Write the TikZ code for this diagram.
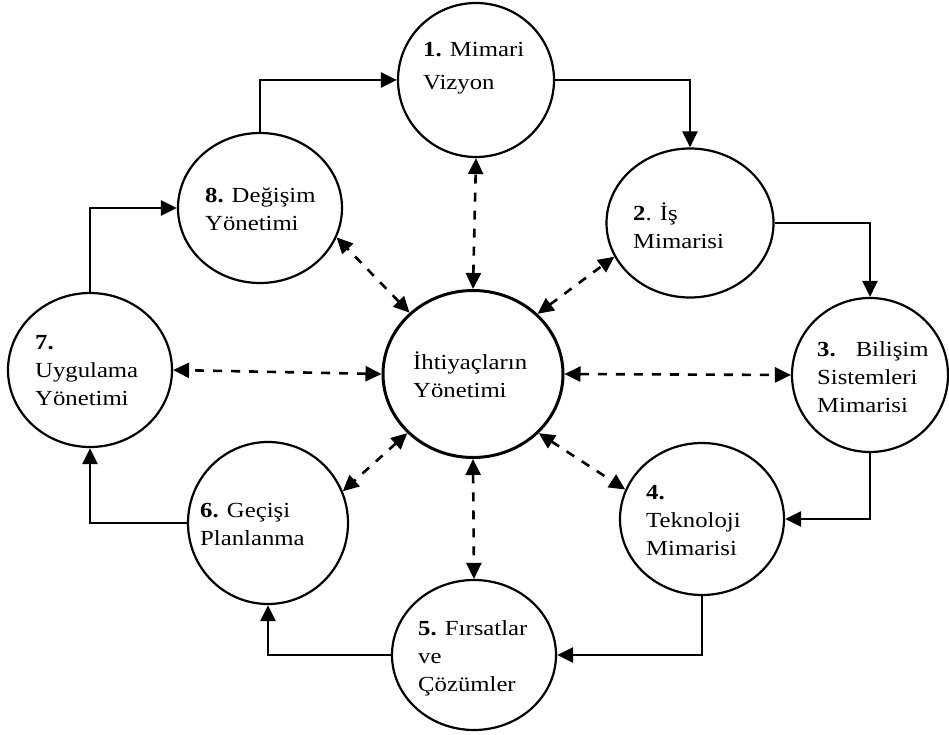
\documentclass[tikz,border=0pt]{standalone}
\usepackage{fontspec}
\setmainfont{Liberation Serif}[FakeStretch=1.15]
\usetikzlibrary{shapes.geometric,arrows.meta}

\tikzset{
  stage/.style args={#1/#2}{draw, ellipse, line width=2.2pt, inner sep=0pt,
    minimum width=#1pt, minimum height=#2pt},
  hub/.style args={#1/#2}{stage=#1/#2, line width=3pt},
  % labels are placed by the baseline of their last line
  lbl/.style={anchor=base west, inner sep=0pt, align=left,
    font=\fontsize{21.5}{28}\selectfont},
  tip/.tip={Triangle[length=16pt,width=15pt]},
  flow/.style={line width=2.7pt, -tip},
  link/.style={line width=2.6pt, tip-tip, dash pattern=on 9pt off 9pt},
}

\begin{document}
\begin{tikzpicture}[x=1pt,y=-1pt]
\useasboundingbox (0,0) rectangle (949,735);

% the eight stages round the cycle and the hub in the middle
\node[stage=156/154] (n1) at (476,80)  {};
\node[stage=167/149] (n2) at (690,223) {};
\node[stage=156/154] (n3) at (870,375) {};
\node[stage=164/152] (n4) at (702,519) {};
\node[stage=164/150] (n5) at (474,655) {};
\node[stage=160/162] (n6) at (268,523) {};
\node[stage=164/154] (n7) at (90,370)  {};
\node[stage=164/150] (n8) at (260,208) {};
\node[hub=180/167]   (c)  at (473,374) {};

% labels
\node[lbl, font=\fontsize{21.5}{33}\selectfont] (t1) at (423,90) {\textbf{1.} Mimari\\Vizyon};
\node[lbl] (t2) at (633,248) {\textbf{2}. İş\\Mimarisi};
\node[lbl] (t3) at (817,412) {\textbf{3.}\hspace{20pt}Bilişim\\Sistemleri\\Mimarisi};
\node[lbl] (t4) at (646,555) {\textbf{4.}\\Teknoloji\\Mimarisi};
\node[lbl] (t5) at (418,691) {\textbf{5.} Fırsatlar\\ve\\Çözümler};
\node[lbl] (t6) at (200,545) {\textbf{6.} Geçişi\\Planlanma};
\node[lbl] (t7) at (35,405)  {\textbf{7.}\\Uygulama\\Yönetimi};
\node[lbl] (t8) at (205,230) {\textbf{8.}\hspace{8pt}Değişim\\Yönetimi};
\node[lbl] (tc) at (413,397) {İhtiyaçların\\Yönetimi};

% the cycle
\draw[flow] (n8.north) |- (n1.west);
\draw[flow] (n1.east) -| (n2.north);
\draw[flow] (n2.east) -| (n3.north);
\draw[flow] (n3.south) |- (n4.east);
\draw[flow] (n4.south) |- (n5.east);
\draw[flow] (n5.west) -| (n6.south);
\draw[flow] (n6.west) -| (n7.south);
\draw[flow] (n7.north) |- (n8.west);

% two-way links between the hub and each stage
\draw[link] (c.90)   -- (n1.270);
\draw[link] (c.43)   -- (n2.-156);
\draw[link] (c.0)    -- (n3.180);
\draw[link] (c.-42)  -- (n4.159);
\draw[link] (c.270)  -- (n5.90);
\draw[link] (c.-138) -- (n6.23);
\draw[link] (c.180)  -- (n7.0);
\draw[link] (c.136)  -- (n8.-21);
\end{tikzpicture}
\end{document}
